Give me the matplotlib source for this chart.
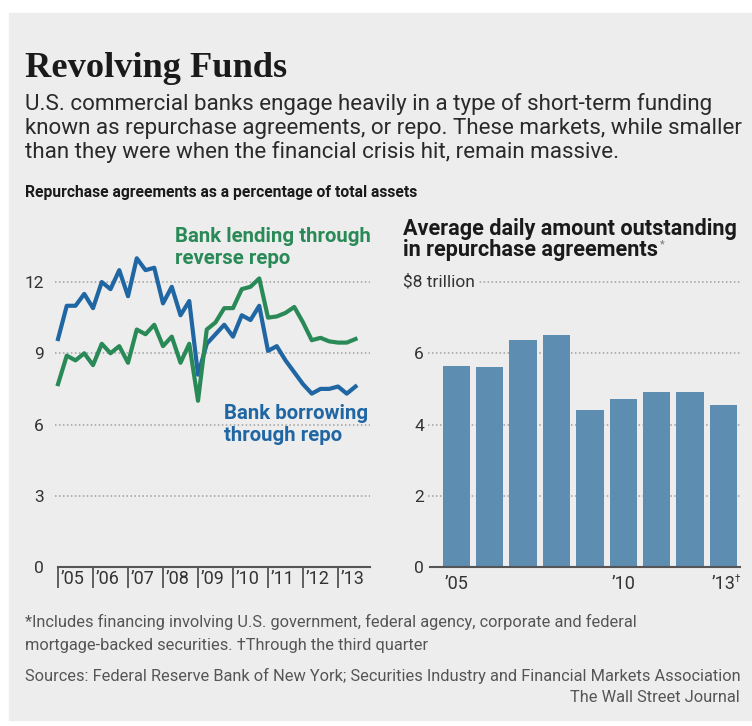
import matplotlib
matplotlib.use('Agg')
import matplotlib.pyplot as plt
from matplotlib import font_manager
from matplotlib.patches import Rectangle
import pandas as pd

# quarterly data, 2005 Q1 .. 2013 Q3
quarters = pd.period_range('2005Q1', '2013Q3', freq='Q')
borrowing = [9.6, 11.0, 11.0, 11.5, 10.9, 12.0, 11.7, 12.5, 11.4, 13.0,
             12.5, 12.6, 11.1, 11.8, 10.6, 11.2, 8.1, 9.4, 9.8, 10.2,
             9.7, 10.6, 10.4, 11.0, 9.1, 9.3, 8.7, 8.2, 7.7, 7.3,
             7.5, 7.5, 7.6, 7.3, 7.6]
lending = [7.7, 8.9, 8.7, 9.0, 8.5, 9.4, 9.0, 9.3, 8.6, 10.0,
           9.8, 10.2, 9.3, 9.7, 8.6, 9.4, 7.0, 10.0, 10.3, 10.9,
           10.9, 11.7, 11.8, 12.15, 10.5, 10.55, 10.7, 10.95, 10.3, 9.55,
           9.65, 9.5, 9.45, 9.45, 9.6]
left_ticks = [0, 3, 6, 9, 12]
year_ticks = list(range(2005, 2014))
year_labels = ['\u2019' + str(y)[2:] for y in year_ticks]

bar_years = list(range(2005, 2014))
bar_values = [5.64, 5.62, 6.36, 6.50, 4.42, 4.72, 4.92, 4.90, 4.55]
right_ticks = [0, 2, 4, 6]
bar_labels = {2005: '\u201905', 2010: '\u201910', 2013: '\u201913'}

W, H = 752, 726
BG = '#ededed'
BLUE = '#1f66a3'
GREEN = '#2a8a57'
BARC = '#5d8db1'
GRID = '#a0a0a0'
AXC = '#555555'


def pick(names):
    have = {f.name for f in font_manager.fontManager.ttflist}
    for n in names:
        if n in have:
            return n
    return 'DejaVu Sans'


SANS = pick(['Liberation Sans Narrow', 'Roboto', 'DejaVu Sans'])
SERIF = pick(['Liberation Serif', 'DejaVu Serif'])


def fx(x):
    return x / W


def fy(y):
    return 1 - y / H


fig = plt.figure(figsize=(W / 100, H / 100), dpi=100, facecolor='white')
fig.patches.append(Rectangle((fx(9), fy(720)), fx(752 - 9), (720 - 13) / H,
                             transform=fig.transFigure, color=BG, zorder=-5))

txt = dict(family=SANS, fontstretch='condensed')

title = fig.text(fx(25), fy(77), 'Revolving Funds', family=SERIF,
                 weight='bold', fontsize=26, color='#1a1a1a', va='baseline')
para = [
    'U.S. commercial banks engage heavily in a type of short-term funding',
    'known as repurchase agreements, or repo. These markets, while smaller',
    'than they were when the financial crisis hit, remain massive.',
]
para_t = [fig.text(fx(25), fy(110 + 24 * i), s, fontsize=14, color='#2a2a2a',
                   va='baseline', **txt) for i, s in enumerate(para)]
head = fig.text(fx(25), fy(197), 'Repurchase agreements as a percentage of total assets',
                fontsize=12, weight='bold', color='#1a1a1a', va='baseline', **txt)
rhead = [fig.text(fx(403), fy(235 + 21 * i), s, fontsize=13, weight='bold',
                  color='#1a1a1a', va='baseline', **txt)
         for i, s in enumerate(['Average daily amount outstanding',
                                'in repurchase agreements'])]
lend_t = [fig.text(fx(175), fy(242 + 22 * i), s, fontsize=13, weight='bold',
                   color=GREEN, va='baseline', **txt)
          for i, s in enumerate(['Bank lending through', 'reverse repo'])]
borr_t = [fig.text(fx(224), fy(419 + 22 * i), s, fontsize=13, weight='bold',
                   color=BLUE, va='baseline', **txt)
          for i, s in enumerate(['Bank borrowing', 'through repo'])]
notes = [
    (627, '*Includes financing involving U.S. government, federal agency, corporate and federal', 'left', 25),
    (650, 'mortgage-backed securities. \u2020Through the third quarter', 'left', 25),
    (681, 'Sources: Federal Reserve Bank of New York; Securities Industry and Financial Markets Association', 'left', 25),
    (702, 'The Wall Street Journal', 'right', 740),
]
note_t = [fig.text(fx(x), fy(y), s, fontsize=10, color='#555555', ha=ha,
                   va='baseline', **txt) for y, s, ha, x in notes]

# fit text widths to the reference
renderer = fig.canvas.get_renderer()


def fit(t, width):
    w = t.get_window_extent(renderer).width
    size = t.get_fontsize() * width / w
    t.set_fontsize(size)
    return size


fit(title, 262)
s = fit(para_t[1], 723)
for t in para_t:
    t.set_fontsize(s)
fit(head, 390)
s = fit(rhead[0], 332)
rhead[1].set_fontsize(s)
s = fit(lend_t[0], 195)
for t in lend_t[1:] + borr_t:
    t.set_fontsize(s)
s = fit(note_t[2], 715)
for t in note_t:
    t.set_fontsize(s)

# left chart: lines
x = [p.year + (p.quarter - 1) / 4 for p in quarters]
ax1 = fig.add_axes([fx(55), fy(567), (370 - 55) / W, (567 - 246.4) / H])
ax1.set_facecolor('none')
ax1.set_xlim(2004.914, 2013.914)
ax1.set_ylim(0, 13.5)
for v in left_ticks[1:]:
    ax1.axhline(v, color=GRID, lw=1.1, ls=(0, (1, 1.6)), zorder=1)
ax1.plot(x, borrowing, color=BLUE, lw=3, zorder=3)
ax1.plot(x, lending, color=GREEN, lw=3, zorder=4)
for sp in ['top', 'right', 'left']:
    ax1.spines[sp].set_visible(False)
ax1.spines['bottom'].set_color(AXC)
ax1.spines['bottom'].set_linewidth(1.5)
ax1.spines['bottom'].set_bounds(2005, 2013.914)
ax1.set_yticks(left_ticks)
ax1.set_yticklabels([str(v) for v in left_ticks])
ax1.tick_params(axis='y', length=0, pad=8, labelsize=12.5, labelcolor='#333333')
for lab in ax1.get_yticklabels():
    lab.set_family(SANS)
ax1.set_xticks(year_ticks)
ax1.set_xticklabels([])
ax1.tick_params(axis='x', direction='out', length=15, width=1.3, color=AXC)
for yr, lab in zip(year_ticks, year_labels):
    ax1.text(yr + 0.07, -0.036, lab, transform=ax1.get_xaxis_transform(),
             ha='left', va='center', fontsize=13, color='#333333', **txt)

# right chart: bars
ax2 = fig.add_axes([fx(428), fy(567), (740 - 428) / W, (567 - 271) / H])
ax2.set_facecolor('none')
ax2.set_xlim(2004.153, 2013.494)
ax2.set_ylim(0, 8.31)
for v in right_ticks[1:] + [8]:
    ax2.axhline(v, color=GRID, lw=1.1, ls=(0, (1, 1.6)), zorder=1)
ax2.bar(bar_years, bar_values, width=0.82, color=BARC, zorder=2)
for sp in ['top', 'right', 'left']:
    ax2.spines[sp].set_visible(False)
ax2.spines['bottom'].set_color(AXC)
ax2.spines['bottom'].set_linewidth(1.5)
ax2.spines['bottom'].set_bounds(2004.21, 2013.494)
ax2.set_yticks(right_ticks)
ax2.set_yticklabels([str(v) for v in right_ticks])
ax2.tick_params(axis='y', length=0, pad=3, labelsize=12.5, labelcolor='#333333')
for lab in ax2.get_yticklabels():
    lab.set_family(SANS)
ax2.set_xticks(list(bar_labels))
ax2.set_xticklabels(list(bar_labels.values()))
ax2.tick_params(axis='x', length=0, pad=6, labelsize=13, labelcolor='#333333')
for lab in ax2.get_xticklabels():
    lab.set_family(SANS)
    lab.set_stretch('condensed')
ax2.text(2013.33, -0.04, '\u2020', transform=ax2.get_xaxis_transform(),
         fontsize=7, color='#333333', va='center', family=SANS)
ax2.text(-0.08, 8, '$8 trillion', transform=ax2.get_yaxis_transform(),
         fontsize=12.5, color='#333333', va='center', ha='left', family=SANS,
         fontstretch='condensed', zorder=5,
         bbox=dict(facecolor=BG, edgecolor='none', pad=2))

# small asterisk after the right heading
bb = rhead[1].get_window_extent(renderer)
fig.text(bb.x1 / W + 0.002, fy(247), '*', fontsize=8, color='#777777',
         va='baseline', **txt)

fig.savefig('out.png', dpi=100, facecolor='white')
